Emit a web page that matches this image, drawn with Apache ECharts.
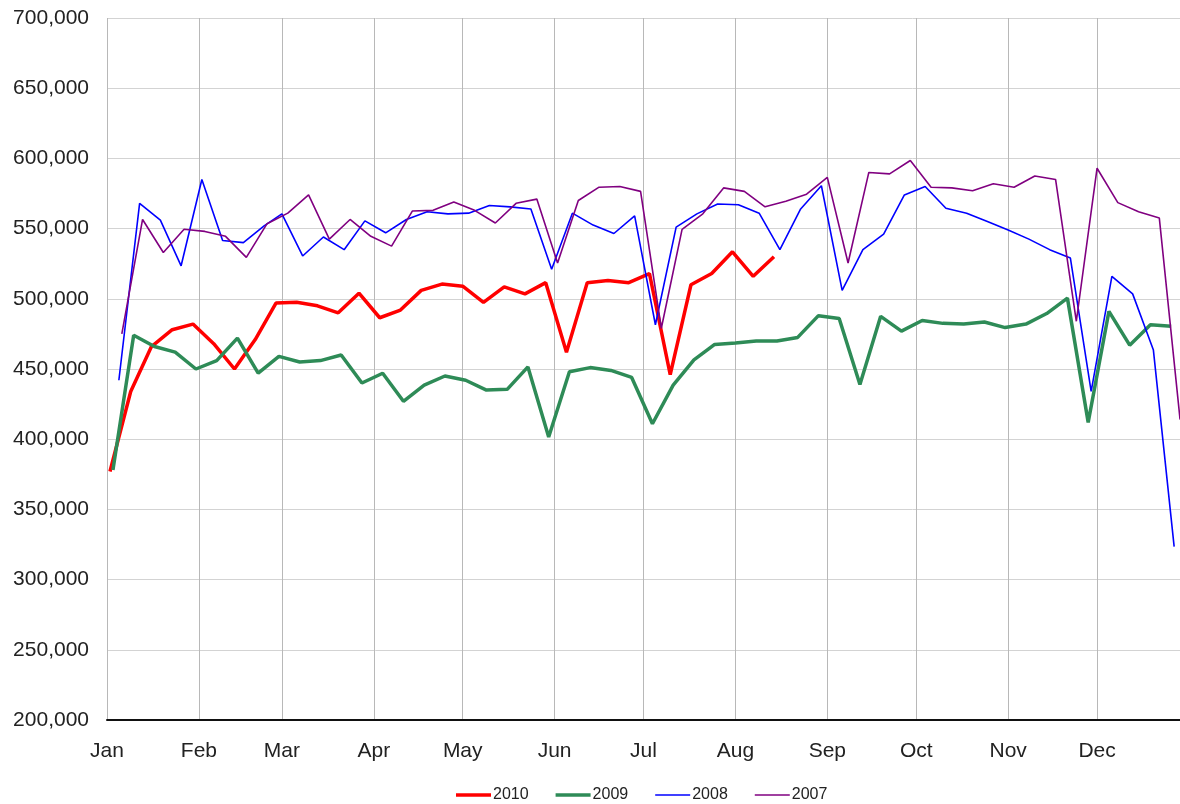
<!DOCTYPE html>
<html>
<head>
<meta charset="utf-8">
<script src="https://cdn.jsdelivr.net/npm/echarts@6/dist/echarts.min.js"></script>
<style>
  html, body { margin: 0; padding: 0; background: #fff; }
  #chart { width: 1180px; height: 804px; }
</style>
</head>
<body>
<div id="chart"></div>
<script>
// Month tick labels
const monthLabels = ['Jan','Feb','Mar','Apr','May','Jun','Jul','Aug','Sep','Oct','Nov','Dec'];

// Series names
const seriesNames = ['2010', '2009', '2008', '2007'];

// First weekly date (Saturday) of each year's data: [year, month(0-based), day]
const start2010 = [2010, 0, 2];
const start2009 = [2009, 0, 3];
const start2008 = [2008, 0, 5];
const start2007 = [2007, 0, 6];

// Weekly values
const values2010 = [377000, 434000, 466000, 478000, 482000, 468000, 450000, 471000, 497000, 497500,
  495000, 490000, 504000, 486500, 492000, 506000, 510500, 509000, 497500, 508500,
  503500, 511500, 462000, 511500, 513000, 511500, 518000, 446000, 510000, 518000,
  533500, 516000, 530000];

const values2009 = [378000, 474000, 466000, 462000, 450000, 456000, 472000, 447000, 459000, 455000,
  456000, 460000, 440000, 447000, 427000, 438500, 445000, 442000, 435000, 435500,
  451500, 401500, 448000, 451000, 449000, 444000, 411000, 438500, 456500, 467500,
  468500, 470000, 470000, 472500, 488000, 486000, 439000, 487500, 477000, 484500,
  482500, 482000, 483500, 479500, 482000, 489500, 500500, 412000, 491000, 467000,
  481500, 480500];

const values2008 = [442000, 568000, 556000, 523500, 585000, 541500, 540000, 552000, 560500, 530500,
  544000, 535000, 555500, 547000, 556500, 562000, 560500, 561000, 566500, 565500,
  564000, 521000, 561000, 552500, 546500, 559000, 481500, 551000, 560500, 567500,
  567000, 561000, 535000, 564000, 580500, 506000, 535000, 546000, 574000, 580000,
  564500, 561000, 555000, 549000, 542500, 535000, 529000, 434000, 516000, 503500,
  463500, 323500];

const values2007 = [475000, 556500, 533000, 549500, 548000, 544500, 529500, 553500, 561000, 574000,
  542500, 556500, 544500, 537500, 562500, 563000, 569000, 563000, 554000, 568000,
  571000, 525500, 570000, 579500, 580000, 576500, 479000, 549500, 560500, 579000,
  576500, 565500, 569500, 574500, 586500, 525500, 590000, 589000, 598500, 579500,
  579000, 577000, 582000, 579500, 587500, 585000, 484000, 593000, 568500, 562000,
  557500, 414000];

// Axis range
const yMin = 200000, yMax = 700000, yStep = 50000;
const commonYear = 2010;

// Build [date, value] pairs: actual weekly dates, placed on a common calendar year by month/day
function weekly(start, vals) {
  return vals.map((v, i) => {
    const d = new Date(start[0], start[1], start[2] + 7 * i);
    return [new Date(commonYear, d.getMonth(), d.getDate()).getTime(), v];
  });
}

const FONT = '"Liberation Sans", Arial, sans-serif';
const chart = echarts.init(document.getElementById('chart'), null, { renderer: 'canvas' });

function lineSeries(name, data, color, width) {
  return {
    name: name, type: 'line', data: data, symbol: 'none', showSymbol: false,
    color: color, lineStyle: { color: color, width: width }, z: 2
  };
}

const thickIcon = 'path://M0,0H35V3.5H0Z';
const thinIcon = 'path://M0,0H35V1.6H0Z';

chart.setOption({
  animation: false,
  backgroundColor: '#fff',
  textStyle: { fontFamily: FONT },
  grid: { left: 107, top: 18, width: 1079, bottom: 84, containLabel: false, outerBoundsMode: 'none' },
  xAxis: {
    type: 'time',
    min: new Date(commonYear, 0, 1).getTime(),
    max: new Date(commonYear, 11, 31).getTime(),
    minInterval: 28 * 86400000,
    maxInterval: 31 * 86400000,
    splitNumber: 12,
    axisLine: { show: true, lineStyle: { color: '#111', width: 2 } },
    axisTick: { show: false },
    axisLabel: {
      fontSize: 21, color: '#222', fontFamily: FONT, margin: 21,
      showMaxLabel: false, showMinLabel: true,
      formatter: function (val) { return monthLabels[new Date(val).getMonth()]; }
    },
    splitLine: { show: true, lineStyle: { color: '#b8b8b8', width: 1 } }
  },
  yAxis: {
    type: 'value', min: yMin, max: yMax, interval: yStep,
    axisLine: { show: false }, axisTick: { show: false },
    axisLabel: {
      fontSize: 21, color: '#222', fontFamily: FONT, margin: 18,
      formatter: function (v) { return v.toLocaleString('en-US'); }
    },
    splitLine: { show: true, lineStyle: { color: '#d3d3d3', width: 1 } }
  },
  legend: {
    data: [
      { name: seriesNames[0], icon: thickIcon },
      { name: seriesNames[1], icon: thickIcon },
      { name: seriesNames[2], icon: thinIcon },
      { name: seriesNames[3], icon: thinIcon }
    ],
    top: 782, left: 451,
    itemWidth: 35, itemHeight: 16, itemGap: 27, symbolKeepAspect: true,
    textStyle: { fontSize: 16, color: '#222', fontFamily: FONT, padding: [0, 0, 0, -3] }
  },
  series: [
    lineSeries(seriesNames[0], weekly(start2010, values2010), '#ff0000', 3.5),
    lineSeries(seriesNames[1], weekly(start2009, values2009), '#2e8b57', 3.5),
    lineSeries(seriesNames[2], weekly(start2008, values2008), '#0000ff', 1.6),
    lineSeries(seriesNames[3], weekly(start2007, values2007), '#800080', 1.6)
  ]
});
</script>
</body>
</html>
